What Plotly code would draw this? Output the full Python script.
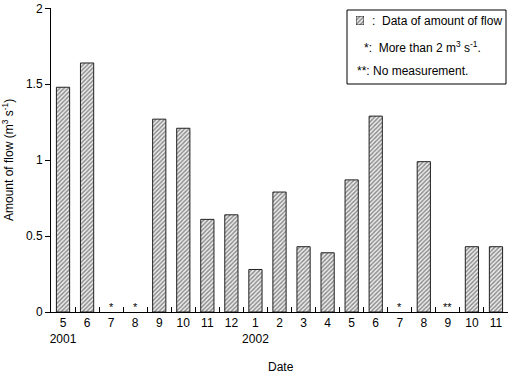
import plotly.graph_objects as go

# months shown on the x axis (year shown under first month of each year)
months = ['5', '6', '7', '8', '9', '10', '11', '12',
          '1', '2', '3', '4', '5', '6', '7', '8', '9', '10', '11']
years = ['2001', '', '', '', '', '', '', '',
         '2002', '', '', '', '', '', '', '', '', '', '']
# amount of flow (m3 s-1); None = over 2 or not measured
flow = [1.48, 1.64, None, None, 1.27, 1.21, 0.61, 0.64,
        0.28, 0.79, 0.43, 0.39, 0.87, 1.29, None, 0.99, None, 0.43, 0.43]
# marks drawn at the foot of empty months
marks = ['', '', '*', '*', '', '', '', '',
         '', '', '', '', '', '', '*', '', '**', '', '']

cats = [f'{i}' for i in range(len(months))]
ticktext = [m + '<br>' + y if y else m for m, y in zip(months, years)]

FONT = 'Liberation Sans, Arial, sans-serif'
HATCH = dict(shape='/', fgcolor='#2a2a2a', bgcolor='#f0f0f0', size=3, solidity=0.5)

fig = go.Figure()

fig.add_trace(go.Bar(
    x=cats,
    y=flow,
    marker=dict(color='#e6e6e6', line=dict(color='#222222', width=1), pattern=HATCH),
    width=0.55,
    showlegend=False,
))

# legend swatch, drawn as a tiny bar in its own little axes
fig.add_trace(go.Bar(
    x=[0], y=[1], xaxis='x2', yaxis='y2', width=1,
    marker=dict(color='#e6e6e6', line=dict(color='#222222', width=1), pattern=HATCH),
    showlegend=False, hoverinfo='skip',
))

annotations = []
for c, m in zip(cats, marks):
    if m:
        annotations.append(dict(
            x=c, y=0, xref='x', yref='y', text=m, showarrow=False,
            yanchor='bottom', yshift=-3, font=dict(size=11, color='black', family=FONT)
        ))

TOP = 8


def px_x(px):
    return (px - 51) / 457


def px_y(py):
    return (312 - py) / (312 - TOP)


annotations += [
    dict(xref='paper', yref='paper', x=px_x(370), y=px_y(21), xanchor='left', yanchor='middle',
         text=':  Data of amount of flow', showarrow=False,
         font=dict(size=12, color='black', family=FONT)),
    dict(xref='paper', yref='paper', x=px_x(362), y=px_y(47), xanchor='left', yanchor='middle',
         text='*:  More than 2 m<sup>3</sup> s<sup>-1</sup>.', showarrow=False,
         font=dict(size=12, color='black', family=FONT)),
    dict(xref='paper', yref='paper', x=px_x(355), y=px_y(71), xanchor='left', yanchor='middle',
         text='**: No measurement.', showarrow=False,
         font=dict(size=12, color='black', family=FONT)),
    dict(xref='paper', yref='paper', x=px_x(281), y=px_y(367), xanchor='center', yanchor='middle',
         text='Date', showarrow=False, font=dict(size=12, color='black', family=FONT)),
    dict(xref='paper', yref='paper', x=px_x(8), y=px_y(160), xanchor='center', yanchor='middle',
         textangle=-90, text='Amount of flow (m<sup>3</sup> s<sup>-1</sup>)', showarrow=False,
         font=dict(size=12, color='black', family=FONT)),
]

fig.update_layout(
    width=510,
    height=375,
    margin=dict(l=51, r=2, t=TOP, b=63),
    paper_bgcolor='white',
    plot_bgcolor='white',
    font=dict(family=FONT, size=12, color='black'),
    bargap=0.45,
    showlegend=False,
    shapes=[dict(
        type='rect', xref='paper', yref='paper',
        x0=px_x(347), x1=px_x(506), y0=px_y(84), y1=px_y(10),
        line=dict(color='black', width=1),
    )],
    annotations=annotations,
    xaxis=dict(
        type='category',
        tickmode='array',
        tickvals=cats,
        ticktext=ticktext,
        tickangle=0,
        tickson='boundaries',
        ticks='inside',
        ticklen=5,
        tickcolor='black',
        showline=True,
        linecolor='black',
        linewidth=1,
        showgrid=False,
        tickfont=dict(size=12, family=FONT),
    ),
    yaxis=dict(
        range=[0, 2.002],
        tickvals=[0, 0.5, 1, 1.5, 2],
        ticktext=['0', '0.5', '1', '1.5', '2'],
        ticks='outside',
        ticklen=5,
        tickcolor='black',
        ticklabeloverflow='allow',
        showline=True,
        linecolor='black',
        linewidth=1,
        showgrid=False,
        zeroline=False,
        tickfont=dict(size=12, family=FONT),
    ),
    xaxis2=dict(domain=[px_x(356), px_x(364)], anchor='y2', range=[-0.5, 0.5],
                visible=False, fixedrange=True),
    yaxis2=dict(domain=[px_y(25), px_y(16)], anchor='x2', range=[0, 1],
                visible=False, fixedrange=True),
)

# page body has an 8px default margin; drop it so the figure sits at the corner
fig.write_html('out.html', config={'displayModeBar': False},
               post_script="document.body.style.margin='0';")
